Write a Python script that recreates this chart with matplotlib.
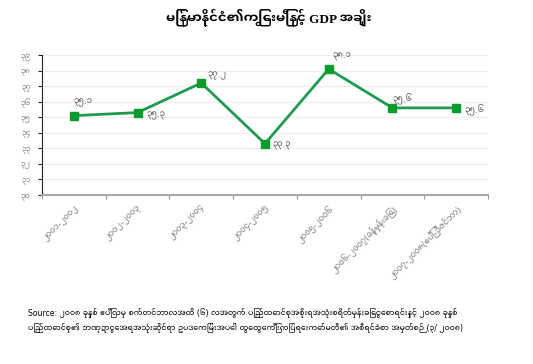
import os
import matplotlib.pyplot as plt
from matplotlib import font_manager
import numpy as np

# debt / GDP ratio by fiscal year
years = ['၂၀၀၁-၂၀၀၂', '၂၀၀၂-၂၀၀၃', '၂၀၀၃-၂၀၀၄', '၂၀၀၄-၂၀၀၅', '၂၀၀၅-၂၀၀၆',
         '၂၀၀၆-၂၀၀၇(ခန့်မှန်းခြေ)', '၂၀၀၇-၂၀၀၈(ဧပြီ-ဒီဇင်ဘာ)']
ratio = [35.1, 35.3, 37.2, 33.3, 38.1, 35.6, 35.6]
ratio_labels = ['၃၅.၁', '၃၅.၃', '၃၇.၂', '၃၃.၃', '၃၈.၁', '၃၅.၆', '၃၅.၆']
y_ticks = [30, 31, 32, 33, 34, 35, 36, 37, 38, 39]
y_tick_labels = ['၃၀', '၃၁', '၃၂', '၃၃', '၃၄', '၃၅', '၃၆', '၃၇', '၃၈', '၃၉']

title = 'မြန်မာနိုင်ငံ၏ကြွေးမြီနှင့် GDP အချိုး'
source = ('Source: ၂၀၀၈ ခုနှစ် ဧပြီလမှ စက်တင်ဘာလအထိ (၆) လအတွက် ပြည်ထောင်စုအစိုးရအသုံးစရိတ်မှန်းခြေငွေစာရင်းနှင့် ၂၀၀၈ ခုနှစ်\n'
          'ပြည်ထောင်စု၏ ဘဏ္ဍာငွေအရအသုံးဆိုင်ရာ ဥပဒေကြမ်းအပေါ် ထွေထွေကြီးကြပ်ရေးကော်မတီ၏ အစီရင်ခံစာ အမှတ်စဉ် (၃/ ၂၀၀၈)')

# where each value label sits relative to its point, in pixels
label_offsets = [(0, 13), (9, -3), (6, 7), (8, -2), (4, 12), (0, 10), (8, -1)]

# a font with Myanmar glyphs
mm_path = '/usr/share/fonts/truetype/google-fonts/NotoSansMyanmarUI-Regular.ttf'
mm_font = 'Noto Sans Myanmar UI'
if os.path.exists(mm_path):
    font_manager.fontManager.addfont(mm_path)
    mm_font = font_manager.FontProperties(fname=mm_path).get_name()

plt.rcParams['font.family'] = ['DejaVu Sans', mm_font]

fig = plt.figure(figsize=(5.33, 3.64), dpi=100)
ax = fig.add_axes([42 / 533, 1 - 195 / 364, 446 / 533, 140 / 364])

x = np.arange(len(years))
ax.plot(x, ratio, color='#1f9a4e', lw=2, marker='s', markersize=6,
        markerfacecolor='#0b9a2c', markeredgecolor='#0b9a2c', zorder=3)

for xi, yi, lab, off in zip(x, ratio, ratio_labels, label_offsets):
    ax.annotate(lab, (xi, yi), xytext=off, textcoords='offset pixels',
                ha='left', va='center', fontsize=6.2, color='#555555')

ax.set_xlim(-0.5, len(years) - 0.5)
ax.set_ylim(30, 39)
ax.set_yticks(y_ticks)
ax.set_yticklabels(y_tick_labels, fontsize=5.6, color='#888888')
ax.yaxis.grid(True, color='#eeeeee', lw=0.8)
ax.set_axisbelow(True)

# ticks between categories, labels at the category centres
ax.set_xticks(np.arange(len(years) + 1) - 0.5)
ax.set_xticklabels([])
ax.set_xticks(x, minor=True)
ax.set_xticklabels(years, minor=True, rotation=45, ha='right',
                   rotation_mode='anchor', fontsize=6, color='#777777')
ax.tick_params(axis='x', which='minor', length=0, pad=6)
ax.tick_params(axis='x', which='major', length=3, color='#999999')
ax.tick_params(axis='y', length=3, color='#222222', pad=5)

for side in ['top', 'right']:
    ax.spines[side].set_visible(False)
ax.spines['left'].set_color('#222222')
ax.spines['bottom'].set_color('#aaaaaa')
ax.spines['bottom'].set_linewidth(1.5)

fig.text(0.505, 1 - 17 / 364, title, ha='center', va='center',
         fontsize=9.5, fontweight='bold', family=['Liberation Serif', mm_font])
fig.text(28 / 533, 1 - 320 / 364, source, ha='left', va='center',
         fontsize=5.6, linespacing=1.6)

fig.savefig('out.png', dpi=100)
